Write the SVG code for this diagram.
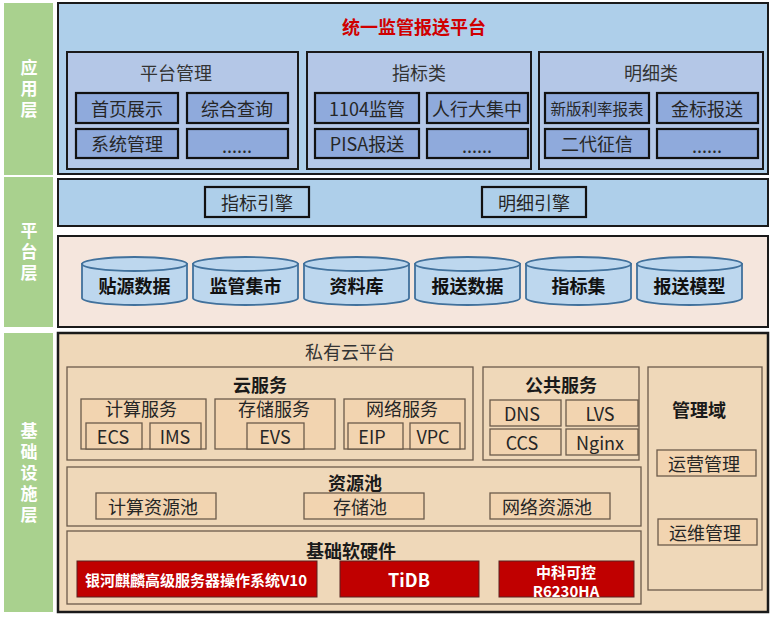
<svg xmlns="http://www.w3.org/2000/svg" width="772" height="620" viewBox="0 0 772 620">
<style>
text{font-family:"Noto Sans CJK SC","Microsoft YaHei",sans-serif;dominant-baseline:central;text-anchor:middle;}
.side{fill:#a9d18e;}
.sidet{fill:#fff;font-size:17px;font-weight:bold;writing-mode:vertical-rl;letter-spacing:4px;}
.band{fill:#aecfea;stroke:#1a1a1a;stroke-width:2;}
.grp{fill:#b4c7e7;stroke:#1a1a1a;stroke-width:2;}
.ib{fill:#8faadc;stroke:#111;stroke-width:2.2;}
.eb{fill:#aecfea;stroke:#111;stroke-width:2.2;}
.t16{font-size:18px;fill:#262626;}
.hd{font-size:18px;fill:#333;}
.cyl{fill:#bdd7ee;stroke:#41719c;stroke-width:1.8;}
.cylt{font-size:18px;font-weight:bold;fill:#111;}
.data{fill:#f5e6dd;stroke:#1a1a1a;stroke-width:2;}
.infra{fill:#efd8b9;stroke:#1a1a1a;stroke-width:2.5;}
.ibx{fill:#efd8b9;stroke:#6b5b4b;stroke-width:1.3;}
.bx{fill:#f2d4b0;stroke:#6b5b4b;stroke-width:1.3;}
.bt{font-size:18px;font-weight:bold;fill:#1a1a1a;}
.red{fill:#c00000;stroke:#5a2020;stroke-width:1;}
.rt{font-size:15px;font-weight:bold;fill:#fff;}
</style>
<rect width="772" height="620" fill="#fff"/>

<g id="layer-labels">
<rect class="side" x="4" y="3" width="49" height="172"/>
<text class="sidet" x="29" y="91">应用层</text>
<rect class="side" x="4" y="177" width="49" height="150"/>
<text class="sidet" x="29" y="254">平台层</text>
<rect class="side" x="4" y="333" width="49" height="279"/>
<text class="sidet" x="29" y="475">基础设施层</text>
</g>

<g id="app-layer">
<rect class="band" x="58" y="3" width="710" height="171"/>
<text x="414" y="26" style="font-size:18px;font-weight:bold;fill:#d00000">统一监管报送平台</text>
</g>

<g id="platform-mgmt">
<rect class="grp" x="67" y="52" width="231" height="117"/>
<text class="hd" x="176" y="72">平台管理</text>
<rect class="ib" x="76" y="93" width="102" height="30"/><text class="t16" x="127" y="108">首页展示</text>
<rect class="ib" x="187" y="93" width="101" height="30"/><text class="t16" x="237" y="108">综合查询</text>
<rect class="ib" x="76" y="129" width="102" height="29"/><text class="t16" x="127" y="143">系统管理</text>
<rect class="ib" x="187" y="129" width="101" height="29"/><text class="t16" x="237" y="145">......</text>
</g>

<g id="indicator">
<rect class="grp" x="307" y="52" width="224" height="117"/>
<text class="hd" x="419" y="72">指标类</text>
<rect class="ib" x="315" y="93" width="104" height="30"/><text class="t16" x="367" y="108">1104监管</text>
<rect class="ib" x="427" y="93" width="101" height="30"/><text class="t16" x="477" y="108">人行大集中</text>
<rect class="ib" x="315" y="129" width="104" height="29"/><text class="t16" x="367" y="143">PISA报送</text>
<rect class="ib" x="427" y="129" width="101" height="29"/><text class="t16" x="477" y="145">......</text>
</g>

<g id="detail">
<rect class="grp" x="539" y="52" width="224" height="117"/>
<text class="hd" x="651" y="72">明细类</text>
<rect class="ib" x="545" y="93" width="104" height="30"/><text class="t16" x="597" y="108" style="font-size:15.5px">新版利率报表</text>
<rect class="ib" x="657" y="93" width="101" height="30"/><text class="t16" x="707" y="108">金标报送</text>
<rect class="ib" x="545" y="129" width="104" height="29"/><text class="t16" x="597" y="143">二代征信</text>
<rect class="ib" x="657" y="129" width="101" height="29"/><text class="t16" x="707" y="145">......</text>
</g>

<g id="engines">
<rect class="band" x="58" y="179" width="710" height="47"/>
<rect class="eb" x="205" y="187" width="104" height="30"/><text class="t16" x="257" y="202">指标引擎</text>
<rect class="eb" x="482" y="187" width="104" height="30"/><text class="t16" x="534" y="202">明细引擎</text>
</g>

<g id="data-layer">
<rect class="data" x="58" y="236" width="710" height="91"/>
</g>
<g id="cyl-1" transform="translate(82,0)"><path class="cyl" d="M0,264 L0,298 A52.5,7 0 0 0 105,298 L105,264 Z"/><ellipse class="cyl" cx="52.5" cy="264" rx="52.5" ry="7"/><text class="cylt" x="52.5" y="285">贴源数据</text></g>
<g id="cyl-2" transform="translate(193,0)"><path class="cyl" d="M0,264 L0,298 A52.5,7 0 0 0 105,298 L105,264 Z"/><ellipse class="cyl" cx="52.5" cy="264" rx="52.5" ry="7"/><text class="cylt" x="52.5" y="285">监管集市</text></g>
<g id="cyl-3" transform="translate(304,0)"><path class="cyl" d="M0,264 L0,298 A52.5,7 0 0 0 105,298 L105,264 Z"/><ellipse class="cyl" cx="52.5" cy="264" rx="52.5" ry="7"/><text class="cylt" x="52.5" y="285">资料库</text></g>
<g id="cyl-4" transform="translate(415,0)"><path class="cyl" d="M0,264 L0,298 A52.5,7 0 0 0 105,298 L105,264 Z"/><ellipse class="cyl" cx="52.5" cy="264" rx="52.5" ry="7"/><text class="cylt" x="52.5" y="285">报送数据</text></g>
<g id="cyl-5" transform="translate(526,0)"><path class="cyl" d="M0,264 L0,298 A52.5,7 0 0 0 105,298 L105,264 Z"/><ellipse class="cyl" cx="52.5" cy="264" rx="52.5" ry="7"/><text class="cylt" x="52.5" y="285">指标集</text></g>
<g id="cyl-6" transform="translate(637,0)"><path class="cyl" d="M0,264 L0,298 A52.5,7 0 0 0 105,298 L105,264 Z"/><ellipse class="cyl" cx="52.5" cy="264" rx="52.5" ry="7"/><text class="cylt" x="52.5" y="285">报送模型</text></g>

<g id="infra-layer">
<rect class="infra" x="58" y="333" width="710" height="279"/>
<text class="hd" x="350" y="351">私有云平台</text>
</g>

<g id="cloud-service">
<rect class="ibx" x="67" y="367" width="406" height="93"/>
<text class="bt" x="260" y="384">云服务</text>
<rect class="bx" x="81" y="399" width="125" height="50"/><text class="t16" x="141" y="408">计算服务</text>
<rect class="bx" x="86" y="423" width="56" height="26"/><text class="t16" x="113" y="436">ECS</text>
<rect class="bx" x="150" y="423" width="51" height="26"/><text class="t16" x="175" y="436">IMS</text>
<rect class="bx" x="215" y="399" width="120" height="50"/><text class="t16" x="274" y="408">存储服务</text>
<rect class="bx" x="247" y="423" width="57" height="26"/><text class="t16" x="275" y="436">EVS</text>
<rect class="bx" x="344" y="399" width="121" height="50"/><text class="t16" x="402" y="408">网络服务</text>
<rect class="bx" x="348" y="423" width="55" height="26"/><text class="t16" x="372" y="436">EIP</text>
<rect class="bx" x="410" y="423" width="50" height="26"/><text class="t16" x="433" y="436">VPC</text>
</g>

<g id="public-service">
<rect class="ibx" x="483" y="367" width="156" height="93"/>
<text class="bt" x="561" y="384">公共服务</text>
<rect class="bx" x="490" y="400" width="71" height="26"/><text class="t16" x="522" y="413">DNS</text>
<rect class="bx" x="566" y="400" width="72" height="26"/><text class="t16" x="600" y="413">LVS</text>
<rect class="bx" x="490" y="429" width="71" height="26"/><text class="t16" x="522" y="442">CCS</text>
<rect class="bx" x="566" y="429" width="72" height="26"/><text class="t16" x="600" y="442">Nginx</text>
</g>

<g id="mgmt-domain">
<rect class="ibx" x="648" y="367" width="114" height="223"/>
<text class="bt" x="699" y="409">管理域</text>
<rect class="bx" x="657" y="450" width="99" height="26"/><text class="t16" x="704" y="463">运营管理</text>
<rect class="bx" x="658" y="519" width="99" height="26"/><text class="t16" x="705" y="532">运维管理</text>
</g>

<g id="resource-pool">
<rect class="ibx" x="67" y="467" width="574" height="59"/>
<text class="bt" x="355" y="482">资源池</text>
<rect class="bx" x="96" y="493" width="120" height="26"/><text class="t16" x="153" y="506">计算资源池</text>
<rect class="bx" x="304" y="493" width="120" height="26"/><text class="t16" x="360" y="506">存储池</text>
<rect class="bx" x="490" y="493" width="120" height="26"/><text class="t16" x="547" y="506">网络资源池</text>
</g>

<g id="base-hw">
<rect class="ibx" x="67" y="531" width="574" height="73"/>
<text class="bt" x="351" y="550">基础软硬件</text>
<rect class="red" x="77" y="561" width="240" height="36"/><text class="rt" x="196" y="579">银河麒麟高级服务器操作系统V10</text>
<rect class="red" x="340" y="561" width="139" height="36"/><text class="rt" x="409" y="579" style="font-size:18px">TiDB</text>
<rect class="red" x="499" y="561" width="135" height="36"/><text class="rt" x="566" y="571"><tspan x="566" y="571">中科可控</tspan><tspan x="566" y="590">R6230HA</tspan></text>
</g>

<g id="connectors"></g>
</svg>
